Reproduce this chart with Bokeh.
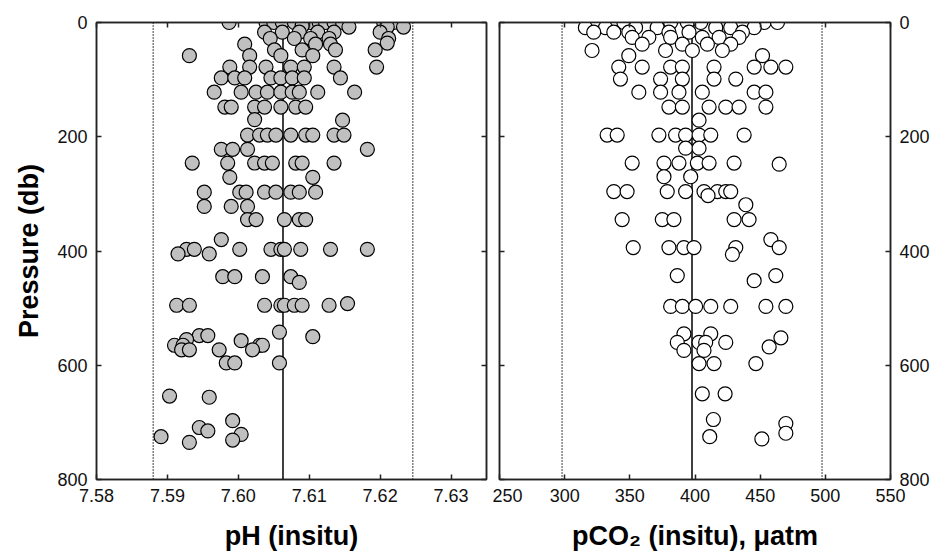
from bokeh.plotting import figure
from bokeh.models import (Range1d, LinearAxis, FixedTicker, Span,
                          NumeralTickFormatter, CustomJSTickFormatter)
from bokeh.layouts import row
from bokeh.embed import file_html
from bokeh.resources import INLINE

# ---------------- data ----------------
ph_pressure = [0, 0, 0, 0, 0, 0, 0, 0, 0, 0, 0, 0,
               8, 8, 8, 6,
               17, 17, 17, 17, 17, 17,
               28, 28, 28, 28, 28,
               38, 38, 38, 36,
               48, 48, 48, 48,
               58, 58, 58, 58,
               78, 78, 78, 78, 78, 78, 78,
               97, 97, 97, 97, 97, 97, 97, 97,
               122, 122, 122, 122, 122, 122, 122, 122, 122,
               148, 148, 148, 148, 148, 148, 148,
               170, 171,
               197, 197, 197, 197, 197, 197, 197, 197, 197,
               222, 222, 222, 222,
               246, 246, 246, 246, 246, 246, 246, 246,
               271, 271,
               297, 297, 297, 297, 297, 297, 297, 297,
               322, 322, 322,
               345, 345, 345, 345, 345,
               380,
               397, 397, 397, 397, 397, 397, 397, 397, 397,
               405, 405,
               445, 445, 445, 445, 455,
               495, 495, 495, 495, 495, 495, 495, 495, 492,
               542, 550,
               548, 548,
               555, 557,
               565, 565, 565, 565,
               573, 573, 573, 573,
               596, 596, 596,
               654, 656,
               697, 709, 715, 721, 725, 731, 735]
ph_value = [7.5987, 7.6039, 7.6050, 7.6062, 7.6079, 7.6102, 7.6114, 7.6123, 7.6135, 7.6147, 7.6205, 7.6219,
            7.6233, 7.6210, 7.6156, 7.6090,
            7.6037, 7.6062, 7.6086, 7.6112, 7.6135, 7.6200,
            7.6212, 7.6079, 7.6102, 7.6128, 7.6045,
            7.6009, 7.6109, 7.6130, 7.6210,
            7.6090, 7.6137, 7.6193, 7.6051,
            7.5931, 7.6016, 7.6060, 7.6105,
            7.5988, 7.6016, 7.6039, 7.6074, 7.6093, 7.6135, 7.6195,
            7.5976, 7.5995, 7.6009, 7.6046, 7.6060, 7.6076, 7.6093, 7.6144,
            7.5966, 7.6004, 7.6025, 7.6041, 7.6060, 7.6076, 7.6086, 7.6112, 7.6164,
            7.5981, 7.5990, 7.6023, 7.6037, 7.6060, 7.6081, 7.6095,
            7.6023, 7.6147,
            7.6013, 7.6030, 7.6041, 7.6053, 7.6074, 7.6095, 7.6105, 7.6135, 7.6149,
            7.5976, 7.5992, 7.6013, 7.6182,
            7.5935, 7.5985, 7.6023, 7.6037, 7.6048, 7.6081, 7.6090, 7.6135,
            7.5988, 7.6105,
            7.5952, 7.6002, 7.6011, 7.6037, 7.6053, 7.6074, 7.6086, 7.6109,
            7.5952, 7.5990, 7.6013,
            7.6013, 7.6025, 7.6065, 7.6086, 7.6095,
            7.5976,
            7.5927, 7.5938, 7.6002, 7.6046, 7.6060, 7.6065, 7.6088, 7.6130, 7.6182,
            7.5915, 7.5959,
            7.5978, 7.5995, 7.6034, 7.6074, 7.6086,
            7.5913, 7.5931, 7.6037, 7.6060, 7.6065, 7.6079, 7.6090, 7.6128, 7.6154,
            7.6058, 7.6105,
            7.5945, 7.5957,
            7.5927, 7.6004,
            7.5910, 7.5922, 7.6030, 7.6034,
            7.5920, 7.5931, 7.5973, 7.6020,
            7.5983, 7.5995, 7.6058,
            7.5903, 7.5959,
            7.5992, 7.5945, 7.5957, 7.6004, 7.5891, 7.5992, 7.5931]

co2_pressure = [0, 0, 0, 0, 0, 0, 0, 0,
                9, 9, 9, 9, 9, 9, 9,
                17, 17, 17, 17, 17, 17,
                26, 26, 26, 26, 26, 26,
                38, 38, 38, 38,
                49, 49, 49, 49,
                58, 58,
                78, 78, 78, 78, 78, 78, 78, 78,
                99, 99, 99, 99, 99,
                122, 122, 122, 122, 122, 122,
                148, 148, 148, 148, 148, 148,
                171,
                197, 197, 197, 197, 197, 197, 197, 197,
                220, 220,
                246, 246, 246, 246, 246, 246, 248,
                270, 270,
                296, 296, 296, 296, 296, 296, 296, 296, 303,
                319,
                345, 345, 345, 345, 345,
                380,
                394, 394, 394, 394, 394, 394,
                406,
                443, 443, 452,
                497, 497, 497, 497, 497, 497, 497,
                545, 545, 552,
                560, 560, 560, 560,
                568,
                574, 574,
                597, 597, 597,
                650, 650,
                695, 702, 719, 725, 729]
co2_value = [324.9, 339.0, 345.4, 381.3, 394.1, 404.4, 453.1, 463.3,
             315.9, 331.3, 354.4, 371.0, 415.9, 427.4, 445.4,
             322.3, 337.7, 349.2, 395.4, 380.0, 436.4,
             351.8, 364.6, 381.3, 405.6, 418.5, 433.8,
             359.5, 390.3, 409.5, 427.4,
             321.0, 377.4, 398.0, 421.0,
             349.2, 451.8,
             341.5, 359.5, 381.3, 390.3, 414.6, 445.4, 458.2, 469.7,
             342.8, 373.6, 390.3, 414.6, 431.3,
             356.9, 373.6, 387.7, 405.6, 445.4, 454.4,
             380.0, 390.3, 410.8, 423.6, 433.8, 454.4,
             403.1,
             332.6, 340.3, 372.3, 385.1, 392.8, 403.1, 412.1, 437.7,
             392.8, 403.1,
             351.8, 376.2, 387.7, 401.8, 410.8, 430.0, 464.6,
             376.2, 396.7,
             337.7, 347.9, 378.7, 392.8, 406.9, 417.2, 423.6, 427.4, 410.0,
             439.0,
             344.1, 374.9, 383.8, 430.0, 441.5,
             458.2,
             352.6, 380.0, 391.5, 399.2, 431.3, 464.6,
             428.7,
             386.4, 462.0, 445.4,
             381.3, 390.3, 400.5, 412.1, 427.4, 454.4, 469.7,
             391.5, 412.1, 465.9,
             386.4, 403.1, 408.2, 423.6,
             456.9,
             391.5, 406.9,
             403.1, 414.6, 446.7,
             405.6, 423.1,
             414.1, 469.7, 469.7, 411.3, 451.3]

ph_mean, ph_low, ph_high = 7.6063, 7.5880, 7.6246
co2_mean, co2_low, co2_high = 397.7, 298.0, 497.5

ph_ticks = [7.58, 7.59, 7.60, 7.61, 7.62, 7.63]
co2_ticks = [250, 300, 350, 400, 450, 500, 550]
p_ticks = [0, 200, 400, 600, 800]

FONT = "Liberation Sans"
TICK_SIZE = "18px"
TITLE_SIZE = "27px"


def style_axis(ax, labelled):
    ax.axis_line_color = "#222222"
    ax.axis_line_width = 1.5
    ax.major_tick_in = 5
    ax.major_tick_out = 0
    ax.major_tick_line_color = "#222222"
    ax.major_tick_line_width = 1.5
    ax.minor_tick_in = 0
    ax.minor_tick_out = 0
    ax.major_label_text_font = FONT
    ax.major_label_text_font_size = TICK_SIZE
    ax.major_label_text_color = "#111111"
    ax.axis_label_text_font = FONT
    ax.axis_label_text_font_size = TITLE_SIZE
    ax.axis_label_text_font_style = "bold"
    ax.axis_label_text_color = "black"
    if labelled:
        ax.major_label_standoff = 9
    else:
        ax.major_label_standoff = 0
        ax.formatter = CustomJSTickFormatter(code="return ''")


def make_panel(width, x_range, xticks, xfmt, left_border, right_border,
               y_labels_left):
    p = figure(width=width, height=559, x_range=x_range,
               y_range=Range1d(800, 0), output_backend="svg",
               toolbar_location=None, x_axis_location=None,
               y_axis_location=None,
               min_border_left=left_border, min_border_right=right_border,
               min_border_top=22, min_border_bottom=80)
    p.xgrid.visible = False
    p.ygrid.visible = False
    p.outline_line_color = "#222222"
    p.outline_line_width = 1.5
    p.background_fill_color = "white"
    p.border_fill_color = "white"

    xa = LinearAxis(ticker=FixedTicker(ticks=xticks), formatter=xfmt)
    style_axis(xa, True)
    xa.axis_label_standoff = 16
    p.add_layout(xa, "below")

    ya = LinearAxis(ticker=FixedTicker(ticks=p_ticks),
                    formatter=NumeralTickFormatter(format="0"))
    style_axis(ya, True)
    p.add_layout(ya, "left" if y_labels_left else "right")

    top = LinearAxis(ticker=FixedTicker(ticks=xticks))
    style_axis(top, False)
    p.add_layout(top, "above")

    other = LinearAxis(ticker=FixedTicker(ticks=p_ticks))
    style_axis(other, False)
    p.add_layout(other, "right" if y_labels_left else "left")
    return p, xa, ya


# ---------------- left panel: pH ----------------
p1, xa1, ya1 = make_panel(492, Range1d(7.58, 7.635), ph_ticks,
                          NumeralTickFormatter(format="0.00"), 96, 6, True)
xa1.axis_label = "pH (insitu)"
ya1.axis_label = "Pressure (db)"
ya1.axis_label_standoff = 10

for loc, dash in [(ph_mean, "solid"), (ph_low, "1 2"), (ph_high, "1 2")]:
    p1.add_layout(Span(location=loc, dimension="height", line_color="black",
                       line_width=1.5, line_dash=dash, level="underlay"))

p1.scatter(ph_value, ph_pressure, size=14, fill_color="#c0c0c0",
           line_color="black", line_width=1.2)

# ---------------- right panel: pCO2 ----------------
p2, xa2, ya2 = make_panel(440, Range1d(250, 550), co2_ticks,
                          NumeralTickFormatter(format="0"), 7, 41, False)
xa2.axis_label = "pCO\u2082 (insitu), \u03bcatm"

for loc, dash in [(co2_mean, "solid"), (co2_low, "1 2"), (co2_high, "1 2")]:
    p2.add_layout(Span(location=loc, dimension="height", line_color="black",
                       line_width=1.5, line_dash=dash, level="underlay"))

p2.scatter(co2_value, co2_pressure, size=14, fill_color="white",
           line_color="black", line_width=1.2)

layout = row(p1, p2)
open("out.html", "w").write(file_html(layout, INLINE))
